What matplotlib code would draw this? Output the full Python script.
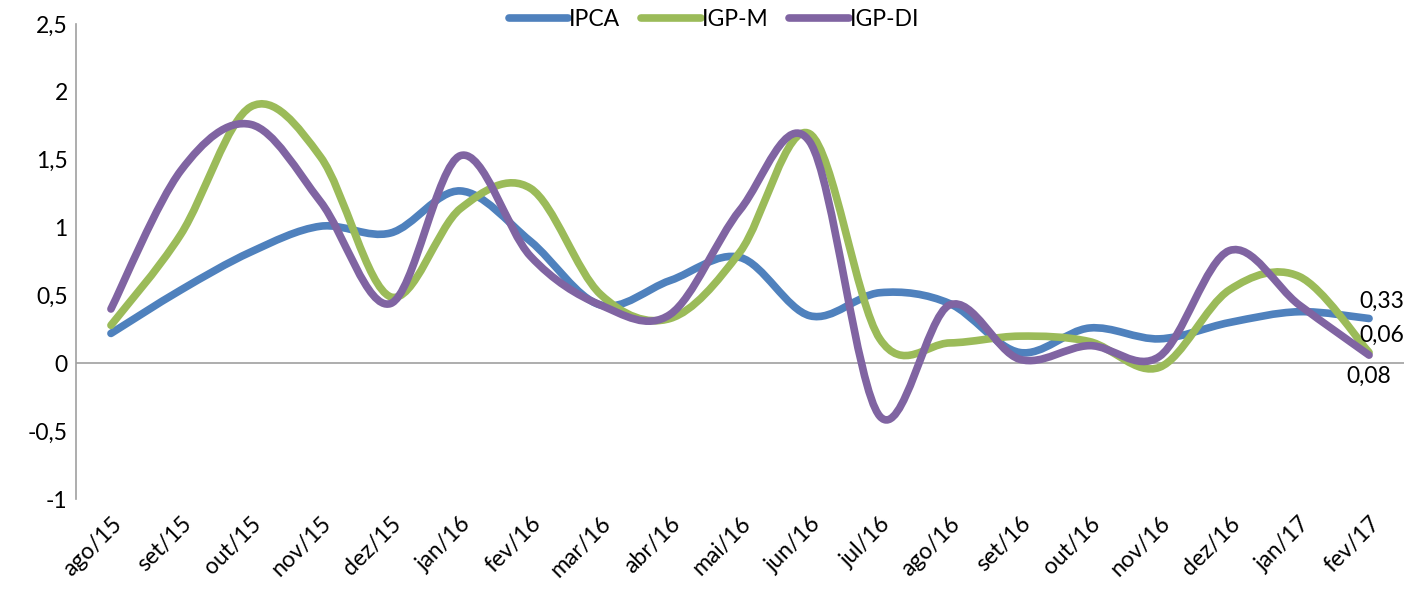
import matplotlib
matplotlib.use("Agg")
import matplotlib.pyplot as plt
import numpy as np
from matplotlib.path import Path
from matplotlib.patches import PathPatch
from matplotlib.lines import Line2D

plt.rcParams['font.family'] = ['Lato', 'DejaVu Sans']

categories = ["ago/15", "set/15", "out/15", "nov/15", "dez/15", "jan/16", "fev/16",
              "mar/16", "abr/16", "mai/16", "jun/16", "jul/16", "ago/16", "set/16",
              "out/16", "nov/16", "dez/16", "jan/17", "fev/17"]
ipca = [0.22, 0.54, 0.82, 1.01, 0.96, 1.27, 0.90, 0.43, 0.61, 0.78, 0.35, 0.52,
        0.44, 0.08, 0.26, 0.18, 0.30, 0.38, 0.33]
igpm = [0.28, 0.95, 1.89, 1.52, 0.49, 1.14, 1.29, 0.51, 0.33, 0.82, 1.69, 0.18,
        0.15, 0.20, 0.16, -0.03, 0.54, 0.64, 0.08]
igpdi = [0.40, 1.42, 1.76, 1.19, 0.44, 1.53, 0.79, 0.43, 0.36, 1.13, 1.63, -0.39,
         0.43, 0.03, 0.13, 0.05, 0.83, 0.43, 0.06]
yticks = [-1, -0.5, 0, 0.5, 1, 1.5, 2, 2.5]

series = [("IPCA", ipca, "#4F81BD"), ("IGP-M", igpm, "#9BBB59"), ("IGP-DI", igpdi, "#8064A2")]

FS = 16.5
fig = plt.figure(figsize=(14.22, 5.92), dpi=100)
ax = fig.add_axes([76/1422, 1 - 499/592, (1404-76)/1422, (499-24)/592])


def smooth_path(xs, ys):
    pts = np.column_stack([xs, ys]).astype(float)
    n = len(pts)
    verts = [pts[0]]
    codes = [Path.MOVETO]
    for i in range(n - 1):
        p0 = pts[i - 1] if i > 0 else pts[i]
        p1 = pts[i]
        p2 = pts[i + 1]
        p3 = pts[i + 2] if i + 2 < n else pts[i + 1]
        c1 = p1 + (p2 - p0) / 6.0
        c2 = p2 - (p3 - p1) / 6.0
        verts += [c1, c2, p2]
        codes += [Path.CURVE4] * 3
    return Path(verts, codes)


x = np.arange(len(categories))
handles = []
for name, vals, col in series:
    patch = PathPatch(smooth_path(x, vals), facecolor='none', edgecolor=col, lw=5.5,
                      capstyle='round', joinstyle='round', zorder=3)
    ax.add_patch(patch)
    handles.append(Line2D([0], [0], color=col, lw=5.5, solid_capstyle='round'))

ax.set_xlim(-0.5, len(categories) - 0.5)
ax.set_ylim(-1, 2.5)
ax.set_yticks(yticks)
ax.set_yticklabels([("%g" % v).replace('.', ',') for v in yticks], fontsize=FS)
ax.set_xticks(x)
ax.set_xticklabels(categories, rotation=45, ha='right', rotation_mode='anchor', fontsize=FS)
ax.tick_params(axis='both', length=0, pad=6)
ax.tick_params(axis='x', pad=10)

for s in ['top', 'right', 'bottom']:
    ax.spines[s].set_visible(False)
ax.spines['left'].set_color('#A0A0A0')
ax.spines['left'].set_linewidth(1.2)
ax.axhline(0, color='#A0A0A0', lw=1.2, zorder=1)

last = len(categories) - 1
ax.annotate(("%.2f" % ipca[-1]).replace('.', ','), (last, ipca[-1]), xytext=(-7, 12),
            textcoords='offset points', fontsize=FS, ha='left', va='center')
ax.annotate(("%.2f" % igpdi[-1]).replace('.', ','), (last, igpdi[-1]), xytext=(-7, 14),
            textcoords='offset points', fontsize=FS, ha='left', va='center')
ax.annotate(("%.2f" % igpm[-1]).replace('.', ','), (last, igpm[-1]), xytext=(-16, -17),
            textcoords='offset points', fontsize=FS, ha='left', va='center')

fig.legend(handles, [s[0] for s in series], loc='center', bbox_to_anchor=(714/1422, 1 - 20/592),
           ncol=3, frameon=False, fontsize=FS, handlelength=2.6, handletextpad=0.05,
           columnspacing=0.9)

fig.savefig("out.png", dpi=100)
